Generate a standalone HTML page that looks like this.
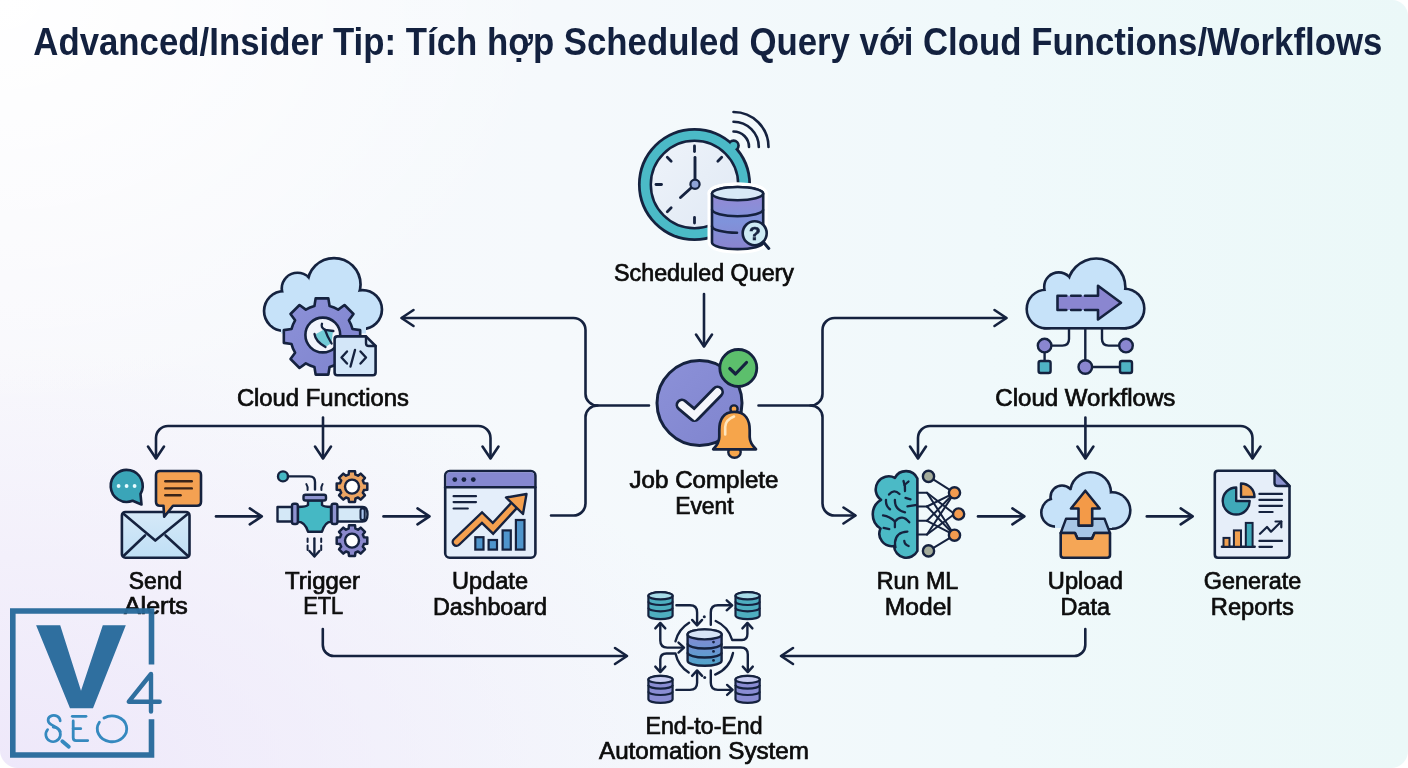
<!DOCTYPE html>
<html><head><meta charset="utf-8"><style>
html,body{margin:0;padding:0;width:1408px;height:768px;overflow:hidden;background:#fff;}
#bg{position:absolute;left:0;top:0;width:1408px;height:768px;border-radius:0 16px 17px 18px;
background:
 radial-gradient(ellipse 560px 420px at 0px 0px, rgba(255,255,255,1) 0%, rgba(255,255,255,0) 100%),
 radial-gradient(ellipse 760px 420px at 0px 768px, rgba(238,232,250,1) 0%, rgba(238,232,250,0) 100%),
 linear-gradient(90deg, #f8f8fc 0%, #f5f9fc 40%, #f0f9fb 70%, #ebf8f8 100%);}
svg{position:absolute;left:0;top:0;will-change:transform;}
text{font-family:"Liberation Sans",sans-serif;}
</style></head><body><div id="bg"></div>
<svg width="1408" height="768" viewBox="0 0 1408 768">
<defs>
<linearGradient id="gCloud" x1="0" y1="0" x2="0" y2="1"><stop offset="0" stop-color="#d3e6f8"/><stop offset="1" stop-color="#c4dcf3"/></linearGradient>
<linearGradient id="gPurple" x1="0" y1="0" x2="1" y2="1"><stop offset="0" stop-color="#8c91d8"/><stop offset="1" stop-color="#7f84ce"/></linearGradient>
<linearGradient id="gDB" x1="0" y1="0" x2="0" y2="1"><stop offset="0" stop-color="#9b86d3"/><stop offset="0.55" stop-color="#7f93db"/><stop offset="1" stop-color="#8a84cf"/></linearGradient>
<linearGradient id="gDBt" x1="0" y1="0" x2="0" y2="1"><stop offset="0" stop-color="#4aa9bd"/><stop offset="1" stop-color="#5bb3c6"/></linearGradient>
<linearGradient id="gDBp" x1="0" y1="0" x2="0" y2="1"><stop offset="0" stop-color="#8c8dd4"/><stop offset="1" stop-color="#7b7dc8"/></linearGradient>
<linearGradient id="gDBc" x1="0" y1="0" x2="0" y2="1"><stop offset="0" stop-color="#8f86d2"/><stop offset="0.5" stop-color="#6f93d3"/><stop offset="1" stop-color="#4fa6c9"/></linearGradient>
<linearGradient id="gFace" x1="0" y1="0" x2="1" y2="1"><stop offset="0" stop-color="#eef3fa"/><stop offset="1" stop-color="#e0e9f4"/></linearGradient>
<linearGradient id="gLight" x1="0" y1="0" x2="0" y2="1"><stop offset="0" stop-color="#e4eefa"/><stop offset="1" stop-color="#d6e6f7"/></linearGradient>
<linearGradient id="gEnv" x1="0" y1="0" x2="0" y2="1"><stop offset="0" stop-color="#d6e9f8"/><stop offset="1" stop-color="#bfdff5"/></linearGradient>
</defs>
<text x="707.8" y="54.8" font-size="38" font-weight="bold" fill="#13213f" text-anchor="middle" textLength="1349" lengthAdjust="spacingAndGlyphs">Advanced/Insider Tip: Tích hợp Scheduled Query với Cloud Functions/Workflows</text>
<path d="M704 294 V346" fill="none" stroke="#15223f" stroke-width="2.6" stroke-linecap="round" stroke-linejoin="round" />
<polyline points="696,334.5 704,346.5 712,334.5" fill="none" stroke="#15223f" stroke-width="2.6" stroke-linecap="round" stroke-linejoin="round"/>
<path d="M649 405.5 H597.5 A12 11.5 0 0 1 585.5 394 V330 A12 12 0 0 0 573.5 318 H402" fill="none" stroke="#15223f" stroke-width="2.6" stroke-linecap="round" stroke-linejoin="round" />
<polyline points="413.5,310 401.5,318 413.5,326" fill="none" stroke="#15223f" stroke-width="2.6" stroke-linecap="round" stroke-linejoin="round"/>
<path d="M597.5 405.5 A12 11.5 0 0 0 585.5 417 V503.5 A12 12 0 0 1 573.5 515.5 H551" fill="none" stroke="#15223f" stroke-width="2.6" stroke-linecap="round" stroke-linejoin="round" />
<path d="M758.5 405.5 H810.5 A12 11.5 0 0 0 822.5 394 V330 A12 12 0 0 1 834.5 318 H1006" fill="none" stroke="#15223f" stroke-width="2.6" stroke-linecap="round" stroke-linejoin="round" />
<polyline points="994.5,310 1006.5,318 994.5,326" fill="none" stroke="#15223f" stroke-width="2.6" stroke-linecap="round" stroke-linejoin="round"/>
<path d="M810.5 405.5 A12 11.5 0 0 1 822.5 417 V503.5 A12 12 0 0 0 834.5 515.5 H855" fill="none" stroke="#15223f" stroke-width="2.6" stroke-linecap="round" stroke-linejoin="round" />
<polyline points="843.5,507.5 855.5,515.5 843.5,523.5" fill="none" stroke="#15223f" stroke-width="2.6" stroke-linecap="round" stroke-linejoin="round"/>
<path d="M156 458 V438 A12 12 0 0 1 168 426 H478.5 A12 12 0 0 1 490.5 438 V458" fill="none" stroke="#15223f" stroke-width="2.6" stroke-linecap="round" stroke-linejoin="round" />
<path d="M323 417.5 V458" fill="none" stroke="#15223f" stroke-width="2.6" stroke-linecap="round" stroke-linejoin="round" />
<polyline points="148,446.5 156,458.5 164,446.5" fill="none" stroke="#15223f" stroke-width="2.6" stroke-linecap="round" stroke-linejoin="round"/>
<polyline points="315,446.5 323,458.5 331,446.5" fill="none" stroke="#15223f" stroke-width="2.6" stroke-linecap="round" stroke-linejoin="round"/>
<polyline points="482.5,446.5 490.5,458.5 498.5,446.5" fill="none" stroke="#15223f" stroke-width="2.6" stroke-linecap="round" stroke-linejoin="round"/>
<path d="M918 458 V438 A12 12 0 0 1 930 426 H1240.5 A12 12 0 0 1 1252.5 438 V458" fill="none" stroke="#15223f" stroke-width="2.6" stroke-linecap="round" stroke-linejoin="round" />
<path d="M1085.4 417.5 V458" fill="none" stroke="#15223f" stroke-width="2.6" stroke-linecap="round" stroke-linejoin="round" />
<polyline points="910,446.5 918,458.5 926,446.5" fill="none" stroke="#15223f" stroke-width="2.6" stroke-linecap="round" stroke-linejoin="round"/>
<polyline points="1077.4,446.5 1085.4,458.5 1093.4,446.5" fill="none" stroke="#15223f" stroke-width="2.6" stroke-linecap="round" stroke-linejoin="round"/>
<polyline points="1244.5,446.5 1252.5,458.5 1260.5,446.5" fill="none" stroke="#15223f" stroke-width="2.6" stroke-linecap="round" stroke-linejoin="round"/>
<path d="M216 516.4 H260.8" fill="none" stroke="#15223f" stroke-width="2.6" stroke-linecap="round" stroke-linejoin="round" />
<polyline points="249.8,508.4 261.8,516.4 249.8,524.4" fill="none" stroke="#15223f" stroke-width="2.6" stroke-linecap="round" stroke-linejoin="round"/>
<path d="M383.5 516.4 H428.5" fill="none" stroke="#15223f" stroke-width="2.6" stroke-linecap="round" stroke-linejoin="round" />
<polyline points="417.5,508.4 429.5,516.4 417.5,524.4" fill="none" stroke="#15223f" stroke-width="2.6" stroke-linecap="round" stroke-linejoin="round"/>
<path d="M978 516.4 H1023.4" fill="none" stroke="#15223f" stroke-width="2.6" stroke-linecap="round" stroke-linejoin="round" />
<polyline points="1012.4,508.4 1024.4,516.4 1012.4,524.4" fill="none" stroke="#15223f" stroke-width="2.6" stroke-linecap="round" stroke-linejoin="round"/>
<path d="M1146.8 516.4 H1191.7" fill="none" stroke="#15223f" stroke-width="2.6" stroke-linecap="round" stroke-linejoin="round" />
<polyline points="1180.7,508.4 1192.7,516.4 1180.7,524.4" fill="none" stroke="#15223f" stroke-width="2.6" stroke-linecap="round" stroke-linejoin="round"/>
<path d="M322.8 629 V645 A11 11 0 0 0 333.8 656 H626" fill="none" stroke="#15223f" stroke-width="2.6" stroke-linecap="round" stroke-linejoin="round" />
<polyline points="615,648 627,656 615,664" fill="none" stroke="#15223f" stroke-width="2.6" stroke-linecap="round" stroke-linejoin="round"/>
<path d="M1085.3 629 V645 A11 11 0 0 1 1074.3 656 H782" fill="none" stroke="#15223f" stroke-width="2.6" stroke-linecap="round" stroke-linejoin="round" />
<polyline points="793,648 781,656 793,664" fill="none" stroke="#15223f" stroke-width="2.6" stroke-linecap="round" stroke-linejoin="round"/>
<text x="704" y="281" font-size="23" font-weight="normal" fill="#0c0c0c" text-anchor="middle" textLength="180" lengthAdjust="spacingAndGlyphs" stroke="#0c0c0c" stroke-width="0.7">Scheduled Query</text>
<text x="322.9" y="406" font-size="23" font-weight="normal" fill="#0c0c0c" text-anchor="middle" textLength="172" lengthAdjust="spacingAndGlyphs" stroke="#0c0c0c" stroke-width="0.7">Cloud Functions</text>
<text x="1085.3" y="406" font-size="23" font-weight="normal" fill="#0c0c0c" text-anchor="middle" textLength="180" lengthAdjust="spacingAndGlyphs" stroke="#0c0c0c" stroke-width="0.7">Cloud Workflows</text>
<text x="704" y="488.4" font-size="23" font-weight="normal" fill="#0c0c0c" text-anchor="middle" textLength="149" lengthAdjust="spacingAndGlyphs" stroke="#0c0c0c" stroke-width="0.7">Job Complete</text>
<text x="704.4" y="513.7" font-size="23" font-weight="normal" fill="#0c0c0c" text-anchor="middle" textLength="58.5" lengthAdjust="spacingAndGlyphs" stroke="#0c0c0c" stroke-width="0.7">Event</text>
<text x="155.5" y="589.4" font-size="23" font-weight="normal" fill="#0c0c0c" text-anchor="middle" textLength="53.5" lengthAdjust="spacingAndGlyphs" stroke="#0c0c0c" stroke-width="0.7">Send</text>
<text x="155.9" y="614.4" font-size="23" font-weight="normal" fill="#0c0c0c" text-anchor="middle" textLength="64" lengthAdjust="spacingAndGlyphs" stroke="#0c0c0c" stroke-width="0.7">Alerts</text>
<text x="322.6" y="589.4" font-size="23" font-weight="normal" fill="#0c0c0c" text-anchor="middle" textLength="75" lengthAdjust="spacingAndGlyphs" stroke="#0c0c0c" stroke-width="0.7">Trigger</text>
<text x="323.2" y="614.4" font-size="23" font-weight="normal" fill="#0c0c0c" text-anchor="middle" textLength="40" lengthAdjust="spacingAndGlyphs" stroke="#0c0c0c" stroke-width="0.7">ETL</text>
<text x="490" y="589.3" font-size="23" font-weight="normal" fill="#0c0c0c" text-anchor="middle" textLength="76" lengthAdjust="spacingAndGlyphs" stroke="#0c0c0c" stroke-width="0.7">Update</text>
<text x="490" y="614.7" font-size="23" font-weight="normal" fill="#0c0c0c" text-anchor="middle" textLength="114" lengthAdjust="spacingAndGlyphs" stroke="#0c0c0c" stroke-width="0.7">Dashboard</text>
<text x="917.5" y="589.3" font-size="23" font-weight="normal" fill="#0c0c0c" text-anchor="middle" textLength="81.5" lengthAdjust="spacingAndGlyphs" stroke="#0c0c0c" stroke-width="0.7">Run ML</text>
<text x="918.3" y="614.6" font-size="23" font-weight="normal" fill="#0c0c0c" text-anchor="middle" textLength="67" lengthAdjust="spacingAndGlyphs" stroke="#0c0c0c" stroke-width="0.7">Model</text>
<text x="1085.3" y="589.3" font-size="23" font-weight="normal" fill="#0c0c0c" text-anchor="middle" textLength="75" lengthAdjust="spacingAndGlyphs" stroke="#0c0c0c" stroke-width="0.7">Upload</text>
<text x="1085.3" y="614.6" font-size="23" font-weight="normal" fill="#0c0c0c" text-anchor="middle" textLength="49.5" lengthAdjust="spacingAndGlyphs" stroke="#0c0c0c" stroke-width="0.7">Data</text>
<text x="1252.5" y="589.3" font-size="23" font-weight="normal" fill="#0c0c0c" text-anchor="middle" textLength="97.5" lengthAdjust="spacingAndGlyphs" stroke="#0c0c0c" stroke-width="0.7">Generate</text>
<text x="1252.3" y="614.6" font-size="23" font-weight="normal" fill="#0c0c0c" text-anchor="middle" textLength="83" lengthAdjust="spacingAndGlyphs" stroke="#0c0c0c" stroke-width="0.7">Reports</text>
<text x="704" y="733.6" font-size="23" font-weight="normal" fill="#0c0c0c" text-anchor="middle" textLength="117" lengthAdjust="spacingAndGlyphs" stroke="#0c0c0c" stroke-width="0.7">End-to-End</text>
<text x="704" y="758.9" font-size="23" font-weight="normal" fill="#0c0c0c" text-anchor="middle" textLength="210" lengthAdjust="spacingAndGlyphs" stroke="#0c0c0c" stroke-width="0.7">Automation System</text>
<g><circle cx="694.5" cy="184.5" r="53.85" fill="#15223f" stroke="#15223f" stroke-width="5.4"/><circle cx="733.6" cy="145.6" r="3.6" fill="#15223f" stroke="#15223f" stroke-width="5.4"/><circle cx="694.5" cy="184.5" r="53.85" fill="#4bbac7"/><circle cx="733.6" cy="145.6" r="3.6" fill="#4bbac7"/></g>
<circle cx="694.5" cy="184.5" r="43.7" fill="url(#gFace)" stroke="#15223f" stroke-width="2.5"/>
<path d="M694.5 151.5 L694.5 146" fill="none" stroke="#15223f" stroke-width="2.8" stroke-linecap="round" stroke-linejoin="round" />
<path d="M717.83 161.17 L721.72 157.28" fill="none" stroke="#15223f" stroke-width="2.8" stroke-linecap="round" stroke-linejoin="round" />
<path d="M727.5 184.5 L733 184.5" fill="none" stroke="#15223f" stroke-width="2.8" stroke-linecap="round" stroke-linejoin="round" />
<path d="M717.83 207.83 L721.72 211.72" fill="none" stroke="#15223f" stroke-width="2.8" stroke-linecap="round" stroke-linejoin="round" />
<path d="M694.5 217.5 L694.5 223" fill="none" stroke="#15223f" stroke-width="2.8" stroke-linecap="round" stroke-linejoin="round" />
<path d="M671.17 207.83 L667.28 211.72" fill="none" stroke="#15223f" stroke-width="2.8" stroke-linecap="round" stroke-linejoin="round" />
<path d="M661.5 184.5 L656 184.5" fill="none" stroke="#15223f" stroke-width="2.8" stroke-linecap="round" stroke-linejoin="round" />
<path d="M671.17 161.17 L667.28 157.28" fill="none" stroke="#15223f" stroke-width="2.8" stroke-linecap="round" stroke-linejoin="round" />
<path d="M695 180 V157.5" fill="none" stroke="#15223f" stroke-width="2.9" stroke-linecap="round" stroke-linejoin="round" />
<path d="M691 188 L680.5 197.5" fill="none" stroke="#15223f" stroke-width="2.9" stroke-linecap="round" stroke-linejoin="round" />
<circle cx="695" cy="184.3" r="4.6" fill="#8ea3d8" stroke="#15223f" stroke-width="2.2"/>
<path d="M733.5 131.5 A15.5 15.5 0 0 1 749 147" fill="none" stroke="#15223f" stroke-width="2.6" stroke-linecap="round" stroke-linejoin="round" />
<path d="M733.5 121.7 A25.3 25.3 0 0 1 758.8 147" fill="none" stroke="#15223f" stroke-width="2.6" stroke-linecap="round" stroke-linejoin="round" />
<path d="M733.5 112 A35 35 0 0 1 768.5 147" fill="none" stroke="#15223f" stroke-width="2.6" stroke-linecap="round" stroke-linejoin="round" />
<path d="M712 193.6 L712 242.5 A25.6 6.6 0 0 0 763.2 242.5 L763.2 193.6 A25.6 6.6 0 0 0 712 193.6 Z" fill="#fff" stroke="#fff" stroke-width="9" stroke-linejoin="round"/>
<ellipse cx="737.6" cy="193.6" rx="25.6" ry="6.6" fill="#fff" stroke="#fff" stroke-width="9"/>
<path d="M712 193.6 L712 242.5 A25.6 6.6 0 0 0 763.2 242.5 L763.2 193.6 A25.6 6.6 0 0 0 712 193.6 Z" fill="url(#gDB)" stroke="#15223f" stroke-width="2.6" stroke-linejoin="round"/><path d="M712 209.6 A25.6 6.6 0 0 0 763.2 209.6" fill="none" stroke="#15223f" stroke-width="2.6"/><ellipse cx="737.6" cy="193.6" rx="25.6" ry="6.6" fill="#d7e9f7" stroke="#15223f" stroke-width="2.6"/>
<path d="M712 226.2 A25.6 6.6 0 0 0 737 232.8" fill="none" stroke="#15223f" stroke-width="2.6" stroke-linecap="round" stroke-linejoin="round" />
<circle cx="754.7" cy="233.2" r="12" fill="#cdeaf4" stroke="#15223f" stroke-width="2.6"/>
<path d="M763.3 242 L768.8 248.4" fill="none" stroke="#15223f" stroke-width="3" stroke-linecap="round" stroke-linejoin="round" />
<text x="754.9" y="240.3" font-size="19" font-weight="bold" fill="#15223f" stroke="#15223f" stroke-width="0.6" text-anchor="middle">?</text>
<circle cx="699.5" cy="403" r="42.5" fill="url(#gPurple)" stroke="#15223f" stroke-width="3"/>
<polyline points="682,405 694.5,415.5 717.5,392" fill="none" stroke="#15223f" stroke-width="13" stroke-linecap="round" stroke-linejoin="round"/>
<polyline points="682,405 694.5,415.5 717.5,392" fill="none" stroke="#f4f6fb" stroke-width="7.5" stroke-linecap="round" stroke-linejoin="miter"/>
<circle cx="738.3" cy="368" r="18.5" fill="#5cbf6c" stroke="#15223f" stroke-width="2.8"/>
<polyline points="729.8,368.5 735.5,374 746.5,362.5" fill="none" stroke="#15223f" stroke-width="3.2" stroke-linecap="round" stroke-linejoin="round"/>
<ellipse cx="734.5" cy="452.3" rx="6.2" ry="5.4" fill="#f6a54b" stroke="#15223f" stroke-width="2.4"/>
<circle cx="734" cy="409" r="3.6" fill="#f6a54b" stroke="#15223f" stroke-width="2.4"/>
<path d="M734.3 411.8 C722.5 411.8 719.3 421 719.3 430 L719.3 437 Q719.3 443 713.2 449.3 L756 449.3 Q749.7 443 749.7 437 L749.7 430 C749.7 421 746 411.8 734.3 411.8 Z" fill="#f6a54b" stroke="#15223f" stroke-width="2.7" stroke-linecap="round" stroke-linejoin="round" />
<path d="M725.2 434.5 V427 Q725.3 420 734 416.5" fill="none" stroke="#ffe6bd" stroke-width="2.6" stroke-linecap="round" stroke-linejoin="round" />
<g><circle cx="284" cy="311" r="18.6" fill="#15223f" stroke="#15223f" stroke-width="5.4"/><circle cx="297.5" cy="288.5" r="14.4" fill="#15223f" stroke="#15223f" stroke-width="5.4"/><circle cx="334" cy="284.6" r="25.2" fill="#15223f" stroke="#15223f" stroke-width="5.4"/><circle cx="362.5" cy="309.5" r="18.1" fill="#15223f" stroke="#15223f" stroke-width="5.4"/><circle cx="284" cy="311" r="18.6" fill="#c6e2f9"/><circle cx="297.5" cy="288.5" r="14.4" fill="#c6e2f9"/><circle cx="334" cy="284.6" r="25.2" fill="#c6e2f9"/><circle cx="362.5" cy="309.5" r="18.1" fill="#c6e2f9"/></g>
<rect x="281" y="296" width="85" height="37.5" fill="#c6e2f9"/>
<circle cx="311" cy="294" r="12" fill="#c6e2f9"/>
<path d="M314.43 306.03 L315.65 298.33 L328.35 298.33 L329.57 306.03 A31.4 31.4 0 0 1 338.2 309.6 L344.5 305.01 L353.49 314 L348.9 320.3 A31.4 31.4 0 0 1 352.47 328.93 L360.17 330.15 L360.17 342.85 L352.47 344.07 A31.4 31.4 0 0 1 348.9 352.7 L353.49 359 L344.5 367.99 L338.2 363.4 A31.4 31.4 0 0 1 329.57 366.97 L328.35 374.67 L315.65 374.67 L314.43 366.97 A31.4 31.4 0 0 1 305.8 363.4 L299.5 367.99 L290.51 359 L295.1 352.7 A31.4 31.4 0 0 1 291.53 344.07 L283.83 342.85 L283.83 330.15 L291.53 328.93 A31.4 31.4 0 0 1 295.1 320.3 L290.51 314 L299.5 305.01 L305.8 309.6 A31.4 31.4 0 0 1 314.43 306.03 Z" fill="url(#gPurple)" stroke="#15223f" stroke-width="2.6" stroke-linecap="round" stroke-linejoin="round" />
<circle cx="322.8" cy="335" r="17.4" fill="#f2f4fb" stroke="#15223f" stroke-width="2.6"/>
<path d="M316 334 L324 329.5 L333 330.8 L331.5 343 L325.5 347 L315 337 Z" fill="#5cc3cf" opacity="0.85"/>
<path d="M322 323.8 Q320.5 327.5 325 329.8 L333.4 331" fill="none" stroke="#15223f" stroke-width="2.3" stroke-linecap="round" stroke-linejoin="round" />
<path d="M325 329.8 Q327.5 337 331.6 343.5" fill="none" stroke="#15223f" stroke-width="2.3" stroke-linecap="round" stroke-linejoin="round" />
<path d="M314.5 334 Q315.5 341.5 325.5 347" fill="none" stroke="#15223f" stroke-width="2.3" stroke-linecap="round" stroke-linejoin="round" />
<path d="M337.4 336.4 H366 L375.6 346 V372.5 Q375.6 375.3 372.8 375.3 H337.4 Q334.6 375.3 334.6 372.5 V339.2 Q334.6 336.4 337.4 336.4 Z" fill="#d3e6f8" stroke="#15223f" stroke-width="2.6" stroke-linecap="round" stroke-linejoin="round" />
<path d="M366 336.4 V343.2 Q366 346 368.8 346 H375.6" fill="none" stroke="#15223f" stroke-width="2.4" stroke-linecap="round" stroke-linejoin="round" />
<path d="M347 351.5 L341.5 357.5 L347 363.5" fill="none" stroke="#15223f" stroke-width="2.4" stroke-linecap="round" stroke-linejoin="round" />
<path d="M355 350 L350.5 366.5" fill="none" stroke="#15223f" stroke-width="2.4" stroke-linecap="round" stroke-linejoin="round" />
<path d="M360.5 351.5 L366 357.5 L360.5 363.5" fill="none" stroke="#15223f" stroke-width="2.4" stroke-linecap="round" stroke-linejoin="round" />
<g><circle cx="1046" cy="309" r="18" fill="#15223f" stroke="#15223f" stroke-width="5.2"/><circle cx="1058.7" cy="286.9" r="13.2" fill="#15223f" stroke="#15223f" stroke-width="5.2"/><circle cx="1096.3" cy="287.6" r="27.8" fill="#15223f" stroke="#15223f" stroke-width="5.2"/><circle cx="1124.5" cy="308.5" r="18.5" fill="#15223f" stroke="#15223f" stroke-width="5.2"/><rect x="1046" y="300" width="78.5" height="27" fill="#15223f" stroke="#15223f" stroke-width="5.2"/><circle cx="1046" cy="309" r="18" fill="#c6e2f9"/><circle cx="1058.7" cy="286.9" r="13.2" fill="#c6e2f9"/><circle cx="1096.3" cy="287.6" r="27.8" fill="#c6e2f9"/><circle cx="1124.5" cy="308.5" r="18.5" fill="#c6e2f9"/><rect x="1046" y="300" width="78.5" height="27" fill="#c6e2f9"/></g>
<circle cx="1070" cy="293" r="12" fill="#c6e2f9"/>
<rect x="1057.5" y="295.7" width="41" height="14.3" fill="#8a86d0"/>
<path d="M1066.3 295.7 H1057.5 V310 H1066.3" fill="none" stroke="#15223f" stroke-width="2.6" stroke-linecap="round" stroke-linejoin="round" stroke-linecap="butt"/>
<path d="M1071.2 295.7 H1080.6 M1071.2 310 H1080.6" fill="none" stroke="#15223f" stroke-width="2.6" stroke-linecap="round" stroke-linejoin="round" stroke-linecap="butt"/>
<path d="M1085 295.7 H1098 V285.8 L1121 302.8 L1098 319.5 V310 H1085" fill="#8a86d0" stroke="#15223f" stroke-width="2.6" stroke-linecap="round" stroke-linejoin="round" stroke-linecap="butt"/>
<path d="M1069 329 V339 Q1069 345.6 1062.4 345.6 H1051.6" fill="none" stroke="#15223f" stroke-width="2.4" stroke-linecap="round" stroke-linejoin="round" />
<path d="M1085.3 329 V360" fill="none" stroke="#15223f" stroke-width="2.4" stroke-linecap="round" stroke-linejoin="round" />
<path d="M1102 329 V339 Q1102 345.6 1108.6 345.6 H1119" fill="none" stroke="#15223f" stroke-width="2.4" stroke-linecap="round" stroke-linejoin="round" />
<path d="M1044.6 352.6 V361" fill="none" stroke="#15223f" stroke-width="2.4" stroke-linecap="round" stroke-linejoin="round" />
<path d="M1092.3 367 H1120" fill="none" stroke="#15223f" stroke-width="2.4" stroke-linecap="round" stroke-linejoin="round" />
<circle cx="1044.6" cy="345.6" r="6.8" fill="#8a86d0" stroke="#15223f" stroke-width="2.4"/>
<circle cx="1085.3" cy="367" r="6.8" fill="#8a86d0" stroke="#15223f" stroke-width="2.4"/>
<circle cx="1126" cy="345.6" r="6.8" fill="#8a86d0" stroke="#15223f" stroke-width="2.4"/>
<rect x="1038.6" y="361" width="12" height="12" rx="2" fill="#4fb3c4" stroke="#15223f" stroke-width="2.4"/>
<rect x="1120" y="361" width="12" height="12" rx="2" fill="#4fb3c4" stroke="#15223f" stroke-width="2.4"/>
<rect x="121.9" y="512" width="67.6" height="45.7" rx="3.5" fill="url(#gEnv)" stroke="#15223f" stroke-width="2.6"/>
<path d="M123.5 513.8 L155.3 540.6 L188 513.8" fill="none" stroke="#15223f" stroke-width="2.6" stroke-linecap="round" stroke-linejoin="round" />
<path d="M123.5 556 L145 535.5" fill="none" stroke="#15223f" stroke-width="2.6" stroke-linecap="round" stroke-linejoin="round" />
<path d="M188 556 L165.6 535.5" fill="none" stroke="#15223f" stroke-width="2.6" stroke-linecap="round" stroke-linejoin="round" />
<path d="M132.6 500.8 A16 16 0 1 1 140.5 494 L141.5 504.5 Z" fill="#3aa5b8" stroke="#15223f" stroke-width="2.6" stroke-linecap="round" stroke-linejoin="round" />
<circle cx="118.6" cy="486" r="1.9" fill="#e9fbff"/>
<circle cx="126.6" cy="486" r="1.9" fill="#e9fbff"/>
<circle cx="134.6" cy="486" r="1.9" fill="#e9fbff"/>
<path d="M160 471 H197 Q201 471 201 475 V501.8 Q201 505.8 197 505.8 H173 L164.2 516.7 L163.5 505.8 H160 Q156 505.8 156 501.8 V475 Q156 471 160 471 Z" fill="#f4a152" stroke="#15223f" stroke-width="2.6" stroke-linecap="round" stroke-linejoin="round" />
<path d="M165.3 481.2 H191.8" fill="none" stroke="#3a2419" stroke-width="2.4" stroke-linecap="round" stroke-linejoin="round" />
<path d="M165.3 488.4 H191.8" fill="none" stroke="#3a2419" stroke-width="2.4" stroke-linecap="round" stroke-linejoin="round" />
<path d="M165.3 495.3 H180.6" fill="none" stroke="#3a2419" stroke-width="2.4" stroke-linecap="round" stroke-linejoin="round" />
<path d="M277.5 507 H362.5 Q367.5 507 367.5 514.25 Q367.5 521.5 362.5 521.5 H277.5 Z" fill="#d4e8f7" stroke="#15223f" stroke-width="2.4" stroke-linecap="round" stroke-linejoin="round" />
<rect x="360.5" y="508.6" width="4.2" height="11.3" rx="2" fill="#a9c3ec" stroke="#15223f" stroke-width="2"/>
<path d="M308 500.3 H322 V505 Q324 507 331 507 V521.5 Q325 522 322 531.7 H308 Q305 522 298 521.5 V507 Q306 507 308 505 Z" fill="#45b8c4" stroke="#15223f" stroke-width="2.4" stroke-linecap="round" stroke-linejoin="round" />
<rect x="303.5" y="494.8" width="22.5" height="5.7" rx="2" fill="#8f94d0" stroke="#15223f" stroke-width="2.4"/>
<rect x="292" y="503.7" width="5.8" height="20.3" rx="2" fill="#8f94d0" stroke="#15223f" stroke-width="2.4"/>
<rect x="331.6" y="503.7" width="5.8" height="20.3" rx="2" fill="#8f94d0" stroke="#15223f" stroke-width="2.4"/>
<circle cx="283" cy="476.4" r="5" fill="#45b8c4" stroke="#15223f" stroke-width="2.4"/>
<path d="M288 476.4 H309.5 Q315 476.4 315 482 V489.5" fill="none" stroke="#15223f" stroke-width="2.4" stroke-linecap="round" stroke-linejoin="round" />
<path d="M306.3 484 Q308 486.5 307.6 490" fill="none" stroke="#15223f" stroke-width="2" stroke-linecap="round" stroke-linejoin="round" />
<path d="M322.6 484 Q321 486.5 321.4 490" fill="none" stroke="#15223f" stroke-width="2" stroke-linecap="round" stroke-linejoin="round" />
<path d="M314.4 538.5 V556" fill="none" stroke="#15223f" stroke-width="2.4" stroke-linecap="round" stroke-linejoin="round" />
<polyline points="309.4,551 314.4,556.5 319.4,551" fill="none" stroke="#15223f" stroke-width="2.4" stroke-linecap="round" stroke-linejoin="round"/>
<path d="M307.6 538.5 V542 M307.6 545.5 V550" fill="none" stroke="#15223f" stroke-width="2" stroke-linecap="round" stroke-linejoin="round" />
<path d="M321.2 538.5 V542 M321.2 545.5 V550" fill="none" stroke="#15223f" stroke-width="2" stroke-linecap="round" stroke-linejoin="round" />
<path d="M348.63 474.67 L348.96 471.3 L355.04 471.3 L355.37 474.67 A12.4 12.4 0 0 1 358.06 475.78 L360.67 473.63 L364.97 477.93 L362.82 480.54 A12.4 12.4 0 0 1 363.93 483.23 L367.3 483.56 L367.3 489.64 L363.93 489.97 A12.4 12.4 0 0 1 362.82 492.66 L364.97 495.27 L360.67 499.57 L358.06 497.42 A12.4 12.4 0 0 1 355.37 498.53 L355.04 501.9 L348.96 501.9 L348.63 498.53 A12.4 12.4 0 0 1 345.94 497.42 L343.33 499.57 L339.03 495.27 L341.18 492.66 A12.4 12.4 0 0 1 340.07 489.97 L336.7 489.64 L336.7 483.56 L340.07 483.23 A12.4 12.4 0 0 1 341.18 480.54 L339.03 477.93 L343.33 473.63 L345.94 475.78 A12.4 12.4 0 0 1 348.63 474.67 Z" fill="#eba462" stroke="#15223f" stroke-width="2.5" stroke-linecap="round" stroke-linejoin="round" />
<circle cx="352" cy="486.6" r="7" fill="#fff" stroke="#15223f" stroke-width="2.4"/>
<path d="M348.63 528.67 L348.96 525.3 L355.04 525.3 L355.37 528.67 A12.4 12.4 0 0 1 358.06 529.78 L360.67 527.63 L364.97 531.93 L362.82 534.54 A12.4 12.4 0 0 1 363.93 537.23 L367.3 537.56 L367.3 543.64 L363.93 543.97 A12.4 12.4 0 0 1 362.82 546.66 L364.97 549.27 L360.67 553.57 L358.06 551.42 A12.4 12.4 0 0 1 355.37 552.53 L355.04 555.9 L348.96 555.9 L348.63 552.53 A12.4 12.4 0 0 1 345.94 551.42 L343.33 553.57 L339.03 549.27 L341.18 546.66 A12.4 12.4 0 0 1 340.07 543.97 L336.7 543.64 L336.7 537.56 L340.07 537.23 A12.4 12.4 0 0 1 341.18 534.54 L339.03 531.93 L343.33 527.63 L345.94 529.78 A12.4 12.4 0 0 1 348.63 528.67 Z" fill="#8a88cc" stroke="#15223f" stroke-width="2.5" stroke-linecap="round" stroke-linejoin="round" />
<circle cx="352" cy="540.6" r="7" fill="#fff" stroke="#15223f" stroke-width="2.4"/>
<rect x="445.2" y="471" width="90.2" height="86.7" rx="4.5" fill="#e4eefa" stroke="#15223f" stroke-width="2.6"/>
<path d="M446.5 487.3 V475.5 Q446.5 472.3 449.7 472.3 H530.9 Q534.1 472.3 534.1 475.5 V487.3 Z" fill="#8588d0"/>
<path d="M445.2 487.3 H535.4" fill="none" stroke="#15223f" stroke-width="2.4" stroke-linecap="round" stroke-linejoin="round" />
<circle cx="454.8" cy="479.6" r="2.4" fill="#15223f"/>
<circle cx="463.9" cy="479.6" r="2.4" fill="#15223f"/>
<circle cx="473.3" cy="479.6" r="2.4" fill="#15223f"/>
<path d="M453.6 496.2 H476" fill="none" stroke="#15223f" stroke-width="2.2" stroke-linecap="round" stroke-linejoin="round" />
<path d="M453.6 502.1 H476" fill="none" stroke="#15223f" stroke-width="2.2" stroke-linecap="round" stroke-linejoin="round" />
<path d="M453.6 508.5 H467.8" fill="none" stroke="#15223f" stroke-width="2.2" stroke-linecap="round" stroke-linejoin="round" />
<rect x="475.3" y="537.2" width="8.2" height="12.4" fill="#4f95cc" stroke="#15223f" stroke-width="2.2"/>
<rect x="488.6" y="540" width="8.4" height="9.6" fill="#4f95cc" stroke="#15223f" stroke-width="2.2"/>
<rect x="502.6" y="530.4" width="8.2" height="19.2" fill="#4f95cc" stroke="#15223f" stroke-width="2.2"/>
<rect x="515.9" y="520" width="8.6" height="29.6" fill="#4f95cc" stroke="#15223f" stroke-width="2.2"/>
<polyline points="456.5,542 482,517.6 493,528.3 514,505.5" fill="none" stroke="#15223f" stroke-width="10" stroke-linecap="round" stroke-linejoin="miter"/>
<polyline points="456.5,542 482,517.6 493,528.3 514,505.5" fill="none" stroke="#f4a04f" stroke-width="5.2" stroke-linecap="round" stroke-linejoin="miter"/>
<path d="M506 497.5 L526.5 494 L523 514 Z" fill="#f4a04f" stroke="#15223f" stroke-width="2.4" stroke-linecap="round" stroke-linejoin="round" />
<path d="M917.4 551 V478.5 A12.5 12.5 0 0 0 894.9 477.9 A13 13 0 0 0 881 499.8 A16.9 16.9 0 0 0 880.5 528.5 A12.5 12.5 0 0 0 894 546 A12.4 12.4 0 0 0 917.4 551 Z" fill="#4bbac6" stroke="#15223f" stroke-width="2.6" stroke-linecap="round" stroke-linejoin="round" />
<path d="M903.5 481 Q905.5 486 905 491" fill="none" stroke="#15223f" stroke-width="2.3" stroke-linecap="round" stroke-linejoin="round" />
<path d="M904.5 485 L908.5 481.5" fill="none" stroke="#15223f" stroke-width="2.3" stroke-linecap="round" stroke-linejoin="round" />
<path d="M889 494.5 Q894 488.5 899.5 494" fill="none" stroke="#15223f" stroke-width="2.3" stroke-linecap="round" stroke-linejoin="round" />
<path d="M905.5 497.9 L910.5 499.3" fill="none" stroke="#15223f" stroke-width="2.3" stroke-linecap="round" stroke-linejoin="round" />
<path d="M886 499.8 Q885.5 506 890 509.3" fill="none" stroke="#15223f" stroke-width="2.3" stroke-linecap="round" stroke-linejoin="round" />
<path d="M894.9 499.8 Q894.5 510 905 512.3" fill="none" stroke="#15223f" stroke-width="2.3" stroke-linecap="round" stroke-linejoin="round" />
<path d="M907.4 506.4 Q912 505.5 917 504.8" fill="none" stroke="#15223f" stroke-width="2.3" stroke-linecap="round" stroke-linejoin="round" />
<path d="M883 515.4 Q890 516.5 895 521.5" fill="none" stroke="#15223f" stroke-width="2.3" stroke-linecap="round" stroke-linejoin="round" />
<path d="M895 521.5 Q902 513.5 909.3 522.3" fill="none" stroke="#15223f" stroke-width="2.3" stroke-linecap="round" stroke-linejoin="round" />
<path d="M894.9 522.5 V527.3" fill="none" stroke="#15223f" stroke-width="2.3" stroke-linecap="round" stroke-linejoin="round" />
<path d="M883.6 527.9 L889.3 529.1" fill="none" stroke="#15223f" stroke-width="2.3" stroke-linecap="round" stroke-linejoin="round" />
<path d="M907.4 531.6 Q896 532 895 542.3 Q895 546 895.5 547.3" fill="none" stroke="#15223f" stroke-width="2.3" stroke-linecap="round" stroke-linejoin="round" />
<path d="M904.3 541 Q904.5 544.5 908.6 546" fill="none" stroke="#15223f" stroke-width="2.3" stroke-linecap="round" stroke-linejoin="round" />
<path d="M917.6 492.8 H927" fill="none" stroke="#15223f" stroke-width="2" stroke-linecap="round" stroke-linejoin="round" />
<path d="M917.6 506.5 H927" fill="none" stroke="#15223f" stroke-width="2" stroke-linecap="round" stroke-linejoin="round" />
<path d="M917.6 520.8 H927" fill="none" stroke="#15223f" stroke-width="2" stroke-linecap="round" stroke-linejoin="round" />
<path d="M917.6 534.5 H927" fill="none" stroke="#15223f" stroke-width="2" stroke-linecap="round" stroke-linejoin="round" />
<path d="M927 492.8 L954.5 514" fill="none" stroke="#15223f" stroke-width="2" stroke-linecap="round" stroke-linejoin="round" />
<path d="M927 492.8 L954.5 535.2" fill="none" stroke="#15223f" stroke-width="2" stroke-linecap="round" stroke-linejoin="round" />
<path d="M927 506.5 L954.5 492.8" fill="none" stroke="#15223f" stroke-width="2" stroke-linecap="round" stroke-linejoin="round" />
<path d="M927 506.5 L954.5 535.2" fill="none" stroke="#15223f" stroke-width="2" stroke-linecap="round" stroke-linejoin="round" />
<path d="M927 520.8 L954.5 492.8" fill="none" stroke="#15223f" stroke-width="2" stroke-linecap="round" stroke-linejoin="round" />
<path d="M927 520.8 L954.5 535.2" fill="none" stroke="#15223f" stroke-width="2" stroke-linecap="round" stroke-linejoin="round" />
<path d="M927 534.5 L954.5 492.8" fill="none" stroke="#15223f" stroke-width="2" stroke-linecap="round" stroke-linejoin="round" />
<path d="M927 534.5 L954.5 514" fill="none" stroke="#15223f" stroke-width="2" stroke-linecap="round" stroke-linejoin="round" />
<path d="M928.5 476.4 L954.5 492.8" fill="none" stroke="#15223f" stroke-width="2" stroke-linecap="round" stroke-linejoin="round" />
<path d="M928.5 550.9 L954.5 535.2" fill="none" stroke="#15223f" stroke-width="2" stroke-linecap="round" stroke-linejoin="round" />
<circle cx="954.5" cy="492.8" r="5.6" fill="#f39b4f" stroke="#15223f" stroke-width="2.4"/>
<circle cx="958.6" cy="514" r="5.6" fill="#f39b4f" stroke="#15223f" stroke-width="2.4"/>
<circle cx="954.5" cy="535.2" r="5.6" fill="#f39b4f" stroke="#15223f" stroke-width="2.4"/>
<circle cx="928.5" cy="476.4" r="5.6" fill="#a4ac9b" stroke="#15223f" stroke-width="2.4"/>
<circle cx="928.5" cy="550.9" r="5.6" fill="#a4ac9b" stroke="#15223f" stroke-width="2.4"/>
<g><circle cx="1055.5" cy="512.4" r="12.9" fill="#15223f" stroke="#15223f" stroke-width="5.2"/><circle cx="1062" cy="497" r="10.2" fill="#15223f" stroke="#15223f" stroke-width="5.2"/><circle cx="1090.6" cy="492.6" r="19.1" fill="#15223f" stroke="#15223f" stroke-width="5.2"/><circle cx="1112" cy="510.5" r="17" fill="#15223f" stroke="#15223f" stroke-width="5.2"/><circle cx="1055.5" cy="512.4" r="12.9" fill="#c6e2f9"/><circle cx="1062" cy="497" r="10.2" fill="#c6e2f9"/><circle cx="1090.6" cy="492.6" r="19.1" fill="#c6e2f9"/><circle cx="1112" cy="510.5" r="17" fill="#c6e2f9"/></g>
<rect x="1055" y="495" width="57" height="33" fill="#c6e2f9"/>
<circle cx="1072" cy="500" r="10" fill="#c6e2f9"/>
<polygon points="1066,518.8 1104.5,518.8 1110,533 1094.5,533 1092,538.6 1077.5,538.6 1075,533 1060.7,533" fill="#a7c6e6" stroke="#15223f" stroke-width="2.4" stroke-linejoin="round"/>
<path d="M1060.7 533 H1075 L1077.5 538.6 H1092 L1094.5 533 H1110 V555 Q1110 557.7 1107.3 557.7 H1063.4 Q1060.7 557.7 1060.7 555 Z" fill="#f5a656" stroke="#15223f" stroke-width="2.6" stroke-linecap="round" stroke-linejoin="round" />
<path d="M1085.3 490.7 L1071 508.5 H1078.5 V525.6 H1092.2 V508.5 H1099.7 Z" fill="#f39a48" stroke="#15223f" stroke-width="2.6" stroke-linecap="round" stroke-linejoin="round" />
<path d="M1218 470.7 H1274.5 L1289.5 486 V554.5 Q1289.5 557.7 1286.3 557.7 H1218 Q1214.8 557.7 1214.8 554.5 V473.9 Q1214.8 470.7 1218 470.7 Z" fill="#e6eef9" stroke="#15223f" stroke-width="2.6" stroke-linecap="round" stroke-linejoin="round" />
<path d="M1274.5 470.7 V483 Q1274.5 486 1277.5 486 H1289.5 Z" fill="#8c93d0" stroke="#15223f" stroke-width="2.4" stroke-linecap="round" stroke-linejoin="round" />
<path d="M1236.2 501 V487.5 A13.5 13.5 0 1 0 1249.7 501 Z" fill="#3fa9b9" stroke="#15223f" stroke-width="2.4" stroke-linecap="round" stroke-linejoin="round" />
<path d="M1241 497 V483.5 A13.5 13.5 0 0 1 1254.5 497 Z" fill="#f0a050" stroke="#15223f" stroke-width="2.4" stroke-linecap="round" stroke-linejoin="round" />
<path d="M1259.4 493.9 H1282" fill="none" stroke="#15223f" stroke-width="2.2" stroke-linecap="round" stroke-linejoin="round" />
<path d="M1259.4 499.9 H1282" fill="none" stroke="#15223f" stroke-width="2.2" stroke-linecap="round" stroke-linejoin="round" />
<path d="M1259.4 505.8 H1282" fill="none" stroke="#15223f" stroke-width="2.2" stroke-linecap="round" stroke-linejoin="round" />
<path d="M1259.4 512 H1272.6" fill="none" stroke="#15223f" stroke-width="2.2" stroke-linecap="round" stroke-linejoin="round" />
<path d="M1259.4 540.9 H1282" fill="none" stroke="#15223f" stroke-width="2.2" stroke-linecap="round" stroke-linejoin="round" />
<path d="M1259.4 546.8 H1272" fill="none" stroke="#15223f" stroke-width="2.2" stroke-linecap="round" stroke-linejoin="round" />
<path d="M1221.9 546.8 H1254.7" fill="none" stroke="#15223f" stroke-width="2.4" stroke-linecap="round" stroke-linejoin="round" />
<rect x="1223.5" y="537.9" width="6" height="8.9" fill="#f0a050" stroke="#15223f" stroke-width="2"/>
<rect x="1233.9" y="530.4" width="7.1" height="16.4" fill="#f0a050" stroke="#15223f" stroke-width="2"/>
<rect x="1245.8" y="522.9" width="6.8" height="23.9" fill="#3fa9b9" stroke="#15223f" stroke-width="2"/>
<path d="M1260 533.8 L1267 527 L1271 531.7 L1281.3 521.5" fill="none" stroke="#15223f" stroke-width="2.2" stroke-linecap="round" stroke-linejoin="round" />
<path d="M1275.5 521.5 H1281.3 V527.3" fill="none" stroke="#15223f" stroke-width="2.2" stroke-linecap="round" stroke-linejoin="round" />
<path d="M648.4 595.8 L648.4 615.6 A12.1 3.6 0 0 0 672.6 615.6 L672.6 595.8 A12.1 3.6 0 0 0 648.4 595.8 Z" fill="#4eaec0" stroke="#15223f" stroke-width="2.2" stroke-linejoin="round"/><path d="M648.4 601.4 A12.1 3.6 0 0 0 672.6 601.4" fill="none" stroke="#15223f" stroke-width="2.2"/><path d="M648.4 607.7 A12.1 3.6 0 0 0 672.6 607.7" fill="none" stroke="#15223f" stroke-width="2.2"/><ellipse cx="660.5" cy="595.8" rx="12.1" ry="3.6" fill="#a8dce8" stroke="#15223f" stroke-width="2.2"/>
<path d="M735.5 595.8 L735.5 615.6 A12.1 3.6 0 0 0 759.7 615.6 L759.7 595.8 A12.1 3.6 0 0 0 735.5 595.8 Z" fill="#4eaec0" stroke="#15223f" stroke-width="2.2" stroke-linejoin="round"/><path d="M735.5 601.4 A12.1 3.6 0 0 0 759.7 601.4" fill="none" stroke="#15223f" stroke-width="2.2"/><path d="M735.5 607.7 A12.1 3.6 0 0 0 759.7 607.7" fill="none" stroke="#15223f" stroke-width="2.2"/><ellipse cx="747.6" cy="595.8" rx="12.1" ry="3.6" fill="#a8dce8" stroke="#15223f" stroke-width="2.2"/>
<path d="M648.4 679.5 L648.4 699.3 A12.1 3.6 0 0 0 672.6 699.3 L672.6 679.5 A12.1 3.6 0 0 0 648.4 679.5 Z" fill="#8a8dd3" stroke="#15223f" stroke-width="2.2" stroke-linejoin="round"/><path d="M648.4 685.1 A12.1 3.6 0 0 0 672.6 685.1" fill="none" stroke="#15223f" stroke-width="2.2"/><path d="M648.4 691.4 A12.1 3.6 0 0 0 672.6 691.4" fill="none" stroke="#15223f" stroke-width="2.2"/><ellipse cx="660.5" cy="679.5" rx="12.1" ry="3.6" fill="#c9cdf1" stroke="#15223f" stroke-width="2.2"/>
<path d="M735.5 679.5 L735.5 699.3 A12.1 3.6 0 0 0 759.7 699.3 L759.7 679.5 A12.1 3.6 0 0 0 735.5 679.5 Z" fill="#8a8dd3" stroke="#15223f" stroke-width="2.2" stroke-linejoin="round"/><path d="M735.5 685.1 A12.1 3.6 0 0 0 759.7 685.1" fill="none" stroke="#15223f" stroke-width="2.2"/><path d="M735.5 691.4 A12.1 3.6 0 0 0 759.7 691.4" fill="none" stroke="#15223f" stroke-width="2.2"/><ellipse cx="747.6" cy="679.5" rx="12.1" ry="3.6" fill="#c9cdf1" stroke="#15223f" stroke-width="2.2"/>
<path d="M687.6 634.4 L687.6 660.8 A17 5 0 0 0 721.6 660.8 L721.6 634.4 A17 5 0 0 0 687.6 634.4 Z" fill="url(#gDBc)" stroke="#15223f" stroke-width="2.4" stroke-linejoin="round"/><path d="M687.6 643.5 A17 5 0 0 0 721.6 643.5" fill="none" stroke="#15223f" stroke-width="2.4"/><path d="M687.6 652.5 A17 5 0 0 0 721.6 652.5" fill="none" stroke="#15223f" stroke-width="2.4"/><ellipse cx="704.6" cy="634.4" rx="17" ry="5" fill="#d6e4f6" stroke="#15223f" stroke-width="2.4"/>
<circle cx="713.5" cy="642.1" r="1.4" fill="#15223f"/>
<circle cx="713.5" cy="651.4" r="1.4" fill="#15223f"/>
<circle cx="713.5" cy="660.4" r="1.4" fill="#15223f"/>
<path d="M675.5 641.3 A30 30 0 0 1 689.1 622.7" fill="none" stroke="#15223f" stroke-width="2.4" stroke-linecap="round" stroke-linejoin="round" />
<path d="M715.7 621 A30 30 0 0 1 732.2 640 H742 Q747.4 640 747.4 634 V624" fill="none" stroke="#15223f" stroke-width="2.4" stroke-linecap="round" stroke-linejoin="round" />
<path d="M733 653 A30 30 0 0 1 715.2 674.6" fill="none" stroke="#15223f" stroke-width="2.4" stroke-linecap="round" stroke-linejoin="round" />
<path d="M688.7 672.5 A30 30 0 0 1 675.5 653.5 H666.5 Q660.3 653.5 660.3 659.5 V671" fill="none" stroke="#15223f" stroke-width="2.4" stroke-linecap="round" stroke-linejoin="round" />
<path d="M676.4 605.3 H690 Q697.1 605.3 697.1 612.4 V624.5" fill="none" stroke="#15223f" stroke-width="2.4" stroke-linecap="round" stroke-linejoin="round" />
<polyline points="692.1,619.9 697.1,625.4 702.1,619.9" fill="none" stroke="#15223f" stroke-width="2.4" stroke-linecap="round" stroke-linejoin="round"/>
<path d="M710.8 624.8 V612.4 Q710.8 605.3 717.9 605.3 H731" fill="none" stroke="#15223f" stroke-width="2.4" stroke-linecap="round" stroke-linejoin="round" />
<polyline points="726.7,600.3 732.2,605.3 726.7,610.3" fill="none" stroke="#15223f" stroke-width="2.4" stroke-linecap="round" stroke-linejoin="round"/>
<path d="M660.3 624 V640.6 Q660.3 647.6 667.3 647.6 H683" fill="none" stroke="#15223f" stroke-width="2.4" stroke-linecap="round" stroke-linejoin="round" />
<polyline points="655.3,628.4 660.3,622.9 665.3,628.4" fill="none" stroke="#15223f" stroke-width="2.4" stroke-linecap="round" stroke-linejoin="round"/>
<polyline points="678.5,642.6 684,647.6 678.5,652.6" fill="none" stroke="#15223f" stroke-width="2.4" stroke-linecap="round" stroke-linejoin="round"/>
<polyline points="742.4,628.4 747.4,622.9 752.4,628.4" fill="none" stroke="#15223f" stroke-width="2.4" stroke-linecap="round" stroke-linejoin="round"/>
<polyline points="655.3,666.6 660.3,672.1 665.3,666.6" fill="none" stroke="#15223f" stroke-width="2.4" stroke-linecap="round" stroke-linejoin="round"/>
<path d="M724.1 647.5 H740.8 Q747.8 647.5 747.8 654.5 V671" fill="none" stroke="#15223f" stroke-width="2.4" stroke-linecap="round" stroke-linejoin="round" />
<polyline points="742.8,666.6 747.8,672.1 752.8,666.6" fill="none" stroke="#15223f" stroke-width="2.4" stroke-linecap="round" stroke-linejoin="round"/>
<path d="M676.4 689.9 H690 Q697.1 689.9 697.1 682.8 V671.5" fill="none" stroke="#15223f" stroke-width="2.4" stroke-linecap="round" stroke-linejoin="round" />
<polyline points="692.1,675.9 697.1,670.4 702.1,675.9" fill="none" stroke="#15223f" stroke-width="2.4" stroke-linecap="round" stroke-linejoin="round"/>
<path d="M710.8 670.4 V682.8 Q710.8 689.9 717.9 689.9 H731.5" fill="none" stroke="#15223f" stroke-width="2.4" stroke-linecap="round" stroke-linejoin="round" />
<polyline points="727.1,684.9 732.6,689.9 727.1,694.9" fill="none" stroke="#15223f" stroke-width="2.4" stroke-linecap="round" stroke-linejoin="round"/>
<circle cx="704.3" cy="616.7" r="1.5" fill="#15223f"/>
<circle cx="704.7" cy="677.6" r="1.5" fill="#15223f"/>
<g opacity="0.97">
<path d="M151.5 664.5 V611 H12.8 V755 H151.5 V719.2" fill="none" stroke="#296b9c" stroke-width="5.6"/>
<polygon points="36.1,625.2 60.2,625.2 81,690.8 102.8,625.2 125.8,625.2 93,708.3 70,708.3" fill="#296b9c"/>
<path d="M151 711.6 V674 L128.8 701.7 H159.7" fill="none" stroke="#296b9c" stroke-width="4.4" stroke-linecap="round" stroke-linejoin="round" stroke-linecap="butt" stroke-linejoin="miter"/>
<path d="M60.2 720.8 C59.8 716.5 55.5 714.8 52 715.6 C47.5 716.6 46.8 721.5 50.5 724.2 C53.5 726.3 58.5 727 60.3 731.5" fill="none" stroke="#2f86bd" stroke-width="2.7" stroke-linecap="round" stroke-linejoin="round" />
<path d="M47.6 729.6 A7.3 7.3 0 1 0 53.2 727.1" fill="none" stroke="#2f86bd" stroke-width="2.7" stroke-linecap="round" stroke-linejoin="round" />
<path d="M62.3 741.2 L68.8 746.8" fill="none" stroke="#2f86bd" stroke-width="3.8" stroke-linecap="round" stroke-linejoin="round" />
<path d="M72.3 716.3 H86" fill="none" stroke="#2f86bd" stroke-width="2.8" stroke-linecap="round" stroke-linejoin="round" />
<path d="M73.2 721 V737.8 Q73.2 740.6 76 740.6 H87.7" fill="none" stroke="#2f86bd" stroke-width="2.8" stroke-linecap="round" stroke-linejoin="round" />
<path d="M73.2 728.7 H80.7" fill="none" stroke="#2f86bd" stroke-width="2.8" stroke-linecap="round" stroke-linejoin="round" />
<path d="M99.4 722.2 A14.7 12.9 0 1 0 104 718" fill="none" stroke="#2f86bd" stroke-width="2.8" stroke-linecap="round" stroke-linejoin="round" />
</g>
</svg></body></html>
